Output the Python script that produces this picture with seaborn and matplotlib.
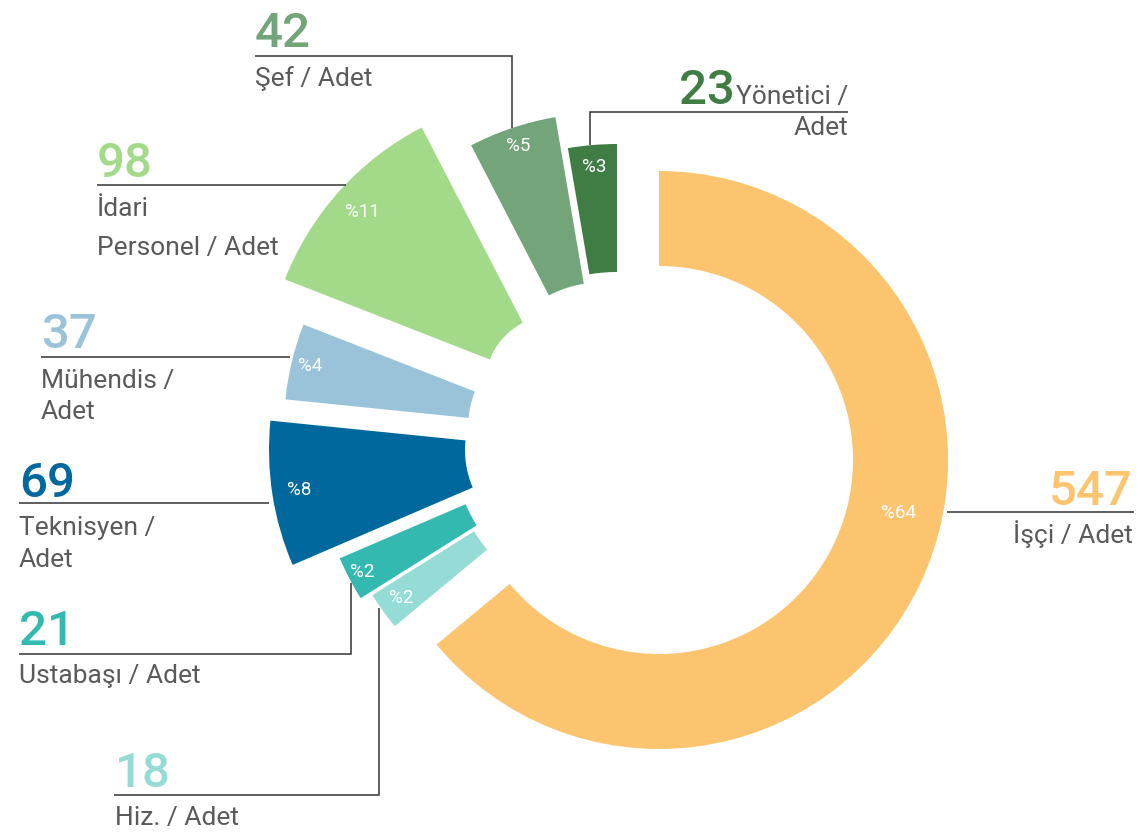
import matplotlib
matplotlib.use("Agg")
import matplotlib.pyplot as plt
import numpy as np
import seaborn as sns

# --- data -------------------------------------------------------------
categories = ["İşçi", "Hiz.", "Ustabaşı", "Teknisyen", "Mühendis",
              "İdari Personel", "Şef", "Yönetici"]
counts = [547, 18, 21, 69, 37, 98, 42, 23]
unit = "Adet"

# label text broken into lines the way each callout shows it
label_lines = [
    ["İşçi / Adet"],
    ["Hiz. / Adet"],
    ["Ustabaşı / Adet"],
    ["Teknisyen /", "Adet"],
    ["Mühendis /", "Adet"],
    ["İdari", "Personel / Adet"],
    ["Şef / Adet"],
    ["Yönetici /", "Adet"],
]

# --- style ------------------------------------------------------------
colors = ["#FDC470", "#94DCD5", "#33B9B0", "#00689C",
          "#9AC3D9", "#A2DA8A", "#74A57A", "#3F7D45"]
TEXT_GREY = "#5A5A5A"
LINE_COL = "#333333"

# each slice: its own centre (pixel frame, y down), inner / outer radius
slice_cx = [659, 618, 608, 560, 568, 555, 604, 617]
slice_cy = [460, 441, 443, 450, 428, 385, 402, 436]
r_outer = [289, 290, 292, 291, 284, 290, 289, 292]
r_inner = [194, 170, 155, 95, 100, 70, 120, 164]
pct_r = [245, 268, 277, 264, 265, 259, 270, 270]
pct_shift = [12.7, 0, 0, 0, 0, 0, 0, 0]

# callout layout: leader path, text x, alignment, baselines
callouts = [
    dict(path=[(947, 512), (1134, 512)], x=1133, ha="right", num_y=505, lines_y=[543]),
    dict(path=[(114, 795), (379, 795), (379, 608)], x=115, ha="left", num_y=787, lines_y=[825]),
    dict(path=[(19, 654), (351, 654), (351, 583)], x=19, ha="left", num_y=645, lines_y=[683]),
    dict(path=[(19, 503), (269, 503)], x=19, ha="left", num_y=497, lines_y=[535, 567]),
    dict(path=[(41, 357), (290, 357)], x=41, ha="left", num_y=348, lines_y=[388, 419]),
    dict(path=[(97, 185), (346, 185)], x=97, ha="left", num_y=177, lines_y=[216, 255]),
    dict(path=[(255, 56), (512, 56), (512, 128)], x=255, ha="left", num_y=47, lines_y=[86]),
    dict(path=[(590, 145), (590, 112), (848, 112)], x=848, ha="right", num_y=104,
         lines_y=[104, 135], inline=True),
]

W, H = 1142, 836

sns.set_theme(style="white")
plt.rcParams["font.family"] = ["Roboto", "DejaVu Sans"]

fig = plt.figure(figsize=(W / 100, H / 100), dpi=100)
ax = fig.add_axes([0, 0, 1, 1])


def Y(y):
    return H - y


palette = sns.color_palette(colors)
wedges, _ = ax.pie(counts, colors=palette, startangle=90, counterclock=False,
                   radius=r_outer[0], center=(slice_cx[0], Y(slice_cy[0])),
                   wedgeprops=dict(linewidth=0, width=r_outer[0] - r_inner[0]))

ax.set_xlim(0, W)
ax.set_ylim(0, H)
ax.set_aspect("auto")
ax.axis("off")

total = sum(counts)
for i, w in enumerate(wedges):
    cx, cy = slice_cx[i], Y(slice_cy[i])
    w.set_center((cx, cy))
    w.set_radius(r_outer[i])
    w.set_width(r_outer[i] - r_inner[i])
    mid = np.deg2rad((w.theta1 + w.theta2) / 2 + pct_shift[i])
    ax.text(cx + pct_r[i] * np.cos(mid), cy + pct_r[i] * np.sin(mid),
            f"%{round(100 * counts[i] / total)}", color="white",
            fontsize=13.5, ha="center", va="center")

renderer = fig.canvas.get_renderer()
for i, c in enumerate(callouts):
    xs = [p[0] for p in c["path"]]
    ys = [Y(p[1]) for p in c["path"]]
    ax.plot(xs, ys, color=LINE_COL, lw=1.1, solid_capstyle="butt",
            solid_joinstyle="miter")
    first = None
    for txt, yb in zip(label_lines[i], c["lines_y"]):
        t = ax.text(c["x"], Y(yb), txt, color=TEXT_GREY, fontsize=19,
                    ha=c["ha"], va="baseline")
        if first is None:
            first = t
    if c.get("inline"):
        bb = first.get_window_extent(renderer=renderer)
        x0 = ax.transData.inverted().transform((bb.x0, bb.y0))[0]
        ax.text(x0 - 1, Y(c["num_y"]), str(counts[i]), color=colors[i],
                fontsize=35.5, fontweight="medium", ha="right", va="baseline")
    else:
        ax.text(c["x"], Y(c["num_y"]), str(counts[i]), color=colors[i],
                fontsize=35.5, fontweight="medium", ha=c["ha"], va="baseline")

fig.savefig("out.png", dpi=100, facecolor="white")
